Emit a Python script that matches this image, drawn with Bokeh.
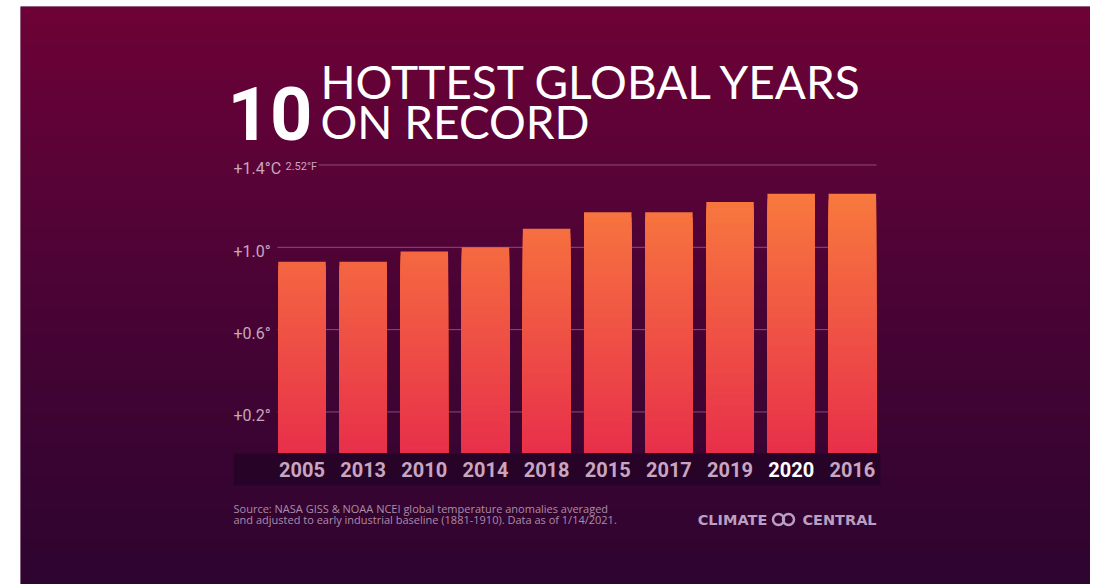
import numpy as np
from bokeh.plotting import figure
from bokeh.models import Range1d, ColumnDataSource
from bokeh.core.properties import value
from bokeh.embed import file_html
from bokeh.resources import INLINE

# ---------------- data ----------------
years = ["2005", "2013", "2010", "2014", "2018", "2015", "2017", "2019", "2020", "2016"]
anomaly_c = [0.93, 0.93, 0.98, 1.00, 1.09, 1.17, 1.17, 1.22, 1.26, 1.26]
highlight_year = "2020"
tick_values = [1.4, 1.0, 0.6, 0.2]
tick_labels = ["+1.4°C", "+1.0°", "+0.6°", "+0.2°"]
top_tick_f = "2.52°F"
title_number = "10"
title_line1 = "HOTTEST GLOBAL YEARS"
title_line2 = "ON RECORD"
source_line1 = "Source: NASA GISS & NOAA NCEI global temperature anomalies averaged"
source_line2 = "and adjusted to early industrial baseline (1881-1910). Data as of 1/14/2021."
brand_left = "CLIMATE"
brand_right = "CENTRAL"

# ---------------- layout (page pixels) ----------------
FIG_W, FIG_H = 1090, 584
BORDER_L, BORDER_T = 20, 6
FRAME_L, FRAME_R, FRAME_T, FRAME_B = 20, 1090, 6, 584
BAR0_PX, BAR_STEP_PX = 301.5, 61.15
ZERO_PX, UNIT_PX = 452.6, 205.8

XS = -(BAR0_PX - FRAME_L) / BAR_STEP_PX
XE = XS + (FRAME_R - FRAME_L) / BAR_STEP_PX
YE = (ZERO_PX - FRAME_T) / UNIT_PX
YS = -(FRAME_B - ZERO_PX) / UNIT_PX


def px2x(px):
    return XS + (px - FRAME_L) / BAR_STEP_PX


def py2y(py):
    return (ZERO_PX - py) / UNIT_PX


def base(py, fs, k=0.33):
    # compensate for the renderer placing the alphabetic baseline lower
    return py2y(py - k * fs)


NARROW = "Roboto"
TITLE_FONT = "Lato"
BRAND_COLOR = "#b99fc2"

p = figure(width=FIG_W, height=FIG_H, output_backend="svg", toolbar_location=None,
           x_range=Range1d(XS, XE), y_range=Range1d(YS, YE),
           min_border_left=BORDER_L, min_border_right=0, min_border_top=BORDER_T,
           min_border_bottom=0)
p.axis.visible = False
p.grid.visible = False
p.outline_line_color = None
p.background_fill_color = "#4a0434"
p.border_fill_color = "white"

# ---------------- gradient background ----------------
stops_py = [6, 150, 350, 584]
stops_rgb = [(110, 2, 54), (92, 3, 56), (68, 4, 52), (46, 5, 48)]
H = 300
rows_py = np.linspace(FRAME_B, FRAME_T, H)  # bottom row first
img = np.zeros((H, 2), dtype=np.uint32)
view = img.view(dtype=np.uint8).reshape((H, 2, 4))
for c in range(3):
    ch = np.interp(rows_py, stops_py, [s[c] for s in stops_rgb])
    view[:, :, c] = ch[:, None].astype(np.uint8)
view[:, :, 3] = 255
p.image_rgba(image=[img], x=XS, y=YS, dw=XE - XS, dh=YE - YS)

# ---------------- grid lines ----------------
grid_x0 = [px2x(318) if v == max(tick_values) else px2x(277) for v in tick_values]
p.segment(x0=grid_x0, y0=tick_values, x1=[px2x(876)] * len(tick_values), y1=tick_values,
          line_color="#a06690", line_alpha=0.75, line_width=1)

# ---------------- year band ----------------
p.quad(left=px2x(233), right=px2x(880), top=py2y(453), bottom=py2y(485),
       fill_color="#1a0320", fill_alpha=0.55, line_color=None)

# ---------------- bars (vertical gradient drawn as nested slices) ----------------
N = 48
g_bottom = np.array([232, 48, 75])
g_top = np.array([249, 124, 62])
g_top_val = 1.3
xs, bots, tops, cols = [], [], [], []
for i, v in enumerate(anomaly_c):
    edges = np.linspace(0, v, N + 1)
    for k in range(N - 1, -1, -1):
        mid = 0.5 * (edges[k] + edges[k + 1])
        t = min(mid / g_top_val, 1.0)
        rgb = (g_bottom + (g_top - g_bottom) * t).astype(int)
        xs.append(i)
        bots.append(0.0)
        tops.append(float(edges[k + 1]))
        cols.append("#%02x%02x%02x" % tuple(rgb))
bar_src = ColumnDataSource(dict(x=xs, bottom=bots, top=tops, color=cols))
p.vbar(x="x", bottom="bottom", top="top", width=0.777, fill_color="color",
       line_color=None, source=bar_src)

# ---------------- year labels ----------------
idx = list(range(len(years)))
ycol = ["#ffffff" if y == highlight_year else "#c9a6bf" for y in years]
p.text(x=idx, y=[0] * len(years), text=years, text_color=ycol, text_font=value(NARROW),
       text_font_size="20px", text_font_style="bold", text_align="center",
       text_baseline="alphabetic", y_offset=16.5)

# ---------------- y tick labels ----------------
p.text(x=[px2x(233)] * len(tick_values), y=tick_values, text=tick_labels,
       text_color="#c9a6bf", text_font=value(NARROW), text_font_size="16px",
       text_align="left", text_baseline="alphabetic", y_offset=4)
p.text(x=[px2x(285)], y=[max(tick_values)], text=[top_tick_f],
       text_color="#c9a6bf", text_font=value(NARROW), text_font_size="11px",
       text_align="left", text_baseline="alphabetic", y_offset=1.5)

# ---------------- source ----------------
p.text(x=[px2x(233), px2x(233)], y=[base(512, 11), base(523, 11)],
       text=[source_line1, source_line2],
       text_color="#ad8ca6", text_font=value("Open Sans"), text_font_size="11px",
       text_align="left", text_baseline="alphabetic")

# ---------------- brand ----------------
p.text(x=[px2x(732), px2x(839)], y=[base(524, 14.5), base(524, 14.5)],
       text=[brand_left, brand_right], text_color=BRAND_COLOR,
       text_font=value("DejaVu Sans"), text_font_size="14.5px", text_font_style="bold",
       text_align="center", text_baseline="alphabetic")
p.scatter(x=[px2x(778), px2x(788)], y=[py2y(519), py2y(519)], size=11, marker="circle",
          fill_alpha=0, fill_color=BRAND_COLOR, line_color=BRAND_COLOR, line_width=2.5)

# ---------------- title ----------------
p.text(x=[px2x(320), px2x(320)], y=[base(96, 46), base(136, 46)],
       text=[title_line1, title_line2],
       text_color="#ffffff", text_font=value(TITLE_FONT), text_font_size="46px",
       text_align="left", text_baseline="alphabetic")
p.text(x=[px2x(227)], y=[base(137, 74)], text=[title_number], text_color="#ffffff",
       text_font=value(NARROW), text_font_size="74px", text_font_style="bold",
       text_align="left", text_baseline="alphabetic")

open("out.html", "w").write(file_html(p, INLINE))
